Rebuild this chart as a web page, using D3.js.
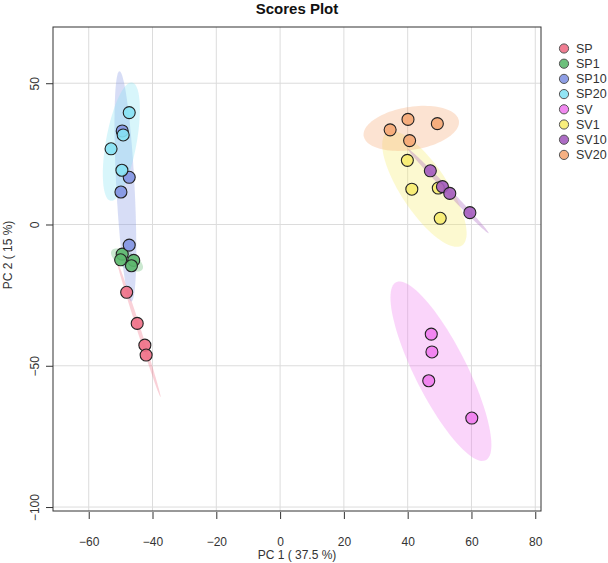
<!DOCTYPE html>
<html>
<head>
<meta charset="utf-8">
<script src="https://cdn.jsdelivr.net/npm/d3@7"></script>
<style>
  html, body { margin: 0; padding: 0; background: #fff; }
  svg { display: block; font-family: "Liberation Sans", Arial, sans-serif; }
</style>
</head>
<body>
<svg id="chart" width="608" height="563"></svg>
<script>
// ---- data ----
const groups = ["SP", "SP1", "SP10", "SP20", "SV", "SV1", "SV10", "SV20"];
const groupColors = ["#EE6F86", "#5DB96E", "#8294E2", "#86E2F4", "#F07CEE", "#F7EC6E", "#A45CBF", "#F5A774"];
const pc1Values = {
  SP:   [-48.1, -44.8, -42.4, -42.0],
  SP1:  [-49.5, -50.0, -45.9, -46.6],
  SP10: [-49.5, -47.3, -49.9, -47.3],
  SP20: [-47.3, -49.2, -53.0, -49.6],
  SV:   [47.4, 47.6, 46.6, 60.1],
  SV1:  [39.9, 41.3, 49.6, 50.2],
  SV10: [47.1, 50.9, 53.2, 59.5],
  SV20: [40.1, 34.5, 49.3, 40.6]
};
const pc2Values = {
  SP:   [-24.0, -35.0, -42.7, -46.2],
  SP1:  [-10.5, -12.5, -12.7, -14.6],
  SP10: [33.1, 16.7, 11.5, -7.3],
  SP20: [39.6, 31.7, 26.8, 19.2],
  SV:   [-38.8, -45.1, -55.3, -68.5],
  SV1:  [22.7, 12.5, 12.9, 2.2],
  SV10: [19.0, 13.4, 11.0, 4.2],
  SV20: [37.2, 33.5, 35.7, 29.7]
};
const xTicks = [-60, -40, -20, 0, 20, 40, 60, 80];
const yTicks = [50, 0, -50, -100];
const xDomain = [-71.2, 81.8];
const yDomain = [-101.4, 69.9];
const title = "Scores Plot";
const xLabel = "PC 1 ( 37.5 %)";
const yLabel = "PC 2 ( 15 %)";

// ---- layout ----
const svg = d3.select("#chart");
const L = 53, R = 541, T = 27, B = 511;
const x = d3.scaleLinear().domain(xDomain).range([L, R]);
const y = d3.scaleLinear().domain(yDomain).range([B, T]);
const color = d3.scaleOrdinal().domain(groups).range(groupColors);

// grid
const grid = svg.append("g");
grid.selectAll(".gx").data(xTicks).join("line")
  .attr("x1", d => x(d)).attr("x2", d => x(d)).attr("y1", T).attr("y2", B)
  .attr("stroke", "#DCDCDC").attr("stroke-width", 1);
grid.selectAll(".gy").data(yTicks).join("line")
  .attr("y1", d => y(d)).attr("y2", d => y(d)).attr("x1", L).attr("x2", R)
  .attr("stroke", "#DCDCDC").attr("stroke-width", 1);

// 95% confidence ellipses from each group's covariance
const tScale = Math.sqrt(-2 * Math.log(1 - 0.95)); // sqrt(qchisq(.95, 2))
function ellipsePoints(xs, ys) {
  const n = xs.length;
  const mx = d3.mean(xs), my = d3.mean(ys);
  let sxx = 0, syy = 0, sxy = 0;
  for (let i = 0; i < n; i++) {
    sxx += (xs[i] - mx) ** 2; syy += (ys[i] - my) ** 2; sxy += (xs[i] - mx) * (ys[i] - my);
  }
  sxx /= n - 1; syy /= n - 1; sxy /= n - 1;
  const tr = sxx + syy, det = sxx * syy - sxy * sxy;
  const disc = Math.sqrt(Math.max(tr * tr / 4 - det, 0));
  const l1 = tr / 2 + disc, l2 = Math.max(tr / 2 - disc, 0);
  let v1 = Math.abs(sxy) > 1e-12 ? [sxy, l1 - sxx] : (sxx >= syy ? [1, 0] : [0, 1]);
  const nv = Math.hypot(v1[0], v1[1]); v1 = [v1[0] / nv, v1[1] / nv];
  const v2 = [-v1[1], v1[0]];
  const a = tScale * Math.sqrt(l1), b = tScale * Math.sqrt(l2);
  const pts = [];
  for (let k = 0; k <= 100; k++) {
    const th = 2 * Math.PI * k / 100;
    const c = Math.cos(th), s = Math.sin(th);
    pts.push([mx + a * c * v1[0] + b * s * v2[0], my + a * c * v1[1] + b * s * v2[1]]);
  }
  return pts;
}
const line = d3.line().x(d => x(d[0])).y(d => y(d[1])).curve(d3.curveLinearClosed);
svg.append("g").selectAll("path").data(groups).join("path")
  .attr("d", g => line(ellipsePoints(pc1Values[g], pc2Values[g])))
  .attr("fill", g => color(g)).attr("fill-opacity", 0.32).attr("stroke", "none");

// points
const pts = svg.append("g");
groups.forEach(g => {
  pts.selectAll(null).data(d3.range(pc1Values[g].length)).join("circle")
    .attr("cx", i => x(pc1Values[g][i])).attr("cy", i => y(pc2Values[g][i]))
    .attr("r", 6).attr("fill", color(g)).attr("fill-opacity", 0.9)
    .attr("stroke", "#222").attr("stroke-width", 1.1);
});

// frame
svg.append("rect").attr("x", L).attr("y", T).attr("width", R - L).attr("height", B - T)
  .attr("fill", "none").attr("stroke", "#333").attr("stroke-width", 1);

// axes
const xAxis = svg.append("g").attr("transform", `translate(0,${B + 1})`)
  .call(d3.axisBottom(x).tickValues(xTicks).tickSize(7).tickSizeOuter(0).tickPadding(18));
xAxis.select(".domain").remove();
xAxis.selectAll(".tick line").attr("stroke", "#333");
xAxis.selectAll("text").attr("font-size", 12).attr("fill", "#333").attr("font-family", "Liberation Sans, Arial, sans-serif");

const yAxis = svg.append("g").attr("transform", `translate(${L},0)`)
  .call(d3.axisLeft(y).tickValues(yTicks).tickSize(7).tickSizeOuter(0));
yAxis.select(".domain").remove();
yAxis.selectAll(".tick line").attr("stroke", "#333");
yAxis.selectAll("text")
  .attr("font-size", 12).attr("fill", "#333").attr("font-family", "Liberation Sans, Arial, sans-serif")
  .attr("x", null).attr("dy", null)
  .attr("text-anchor", "middle")
  .attr("transform", "translate(-17,0) rotate(-90)")
  .attr("dominant-baseline", "middle");

// titles
svg.append("text").attr("x", (L + R) / 2).attr("y", 14).attr("text-anchor", "middle")
  .attr("font-size", 15).attr("font-weight", "bold").attr("fill", "#111").text(title);
svg.append("text").attr("x", (L + R) / 2).attr("y", 559).attr("text-anchor", "middle")
  .attr("font-size", 12).attr("fill", "#333").text(xLabel);
svg.append("text").attr("transform", `translate(12,255) rotate(-90)`).attr("text-anchor", "middle")
  .attr("font-size", 12).attr("fill", "#333").text(yLabel);

// legend
const lg = svg.append("g").selectAll("g").data(groups).join("g")
  .attr("transform", (g, i) => `translate(564,${48.5 + i * 15.2})`);
lg.append("circle").attr("r", 4.6).attr("fill", g => color(g)).attr("fill-opacity", 0.9)
  .attr("stroke", "#555").attr("stroke-width", 1);
lg.append("text").attr("x", 12).attr("dy", "0.35em").attr("font-size", 12.5).attr("fill", "#333").text(g => g);
</script>
</body>
</html>
